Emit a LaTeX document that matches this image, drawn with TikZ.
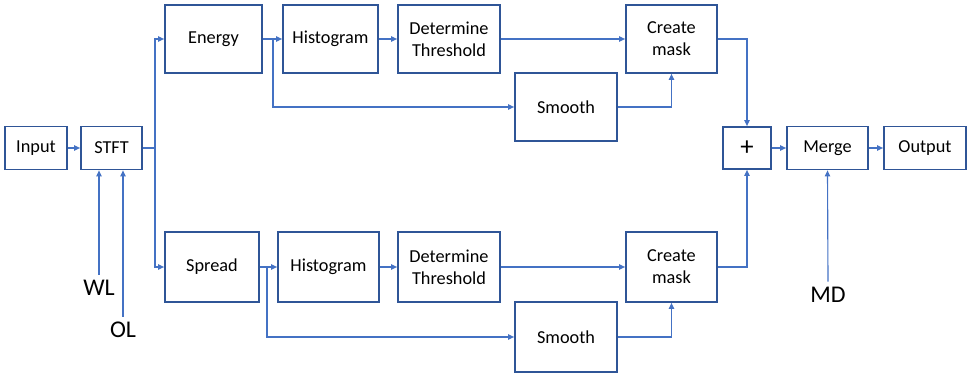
\documentclass[tikz,border=0pt]{standalone}
\usepackage{fontspec}
\setmainfont{Carlito}
\usetikzlibrary{arrows.meta, positioning}
\definecolor{boxblue}{HTML}{2F5597}
\definecolor{lineblue}{HTML}{4472C4}

\begin{document}
\begin{tikzpicture}[
  x=0.75pt, y=-0.75pt,
  block/.style={rectangle, draw=boxblue, line width=1.3pt, inner sep=0pt, minimum height=51pt, font=\fontsize{13.7}{16.5}\selectfont, align=center},
  small/.style={block, minimum height=32.25pt},
  tag/.style={inner sep=4pt, font=\fontsize{18}{20}\selectfont},
  link/.style={draw=lineblue, line width=0.85pt},
  arrow/.style={link, -{Triangle[length=4.5pt, width=4pt]}}
]
  \useasboundingbox (0,0) rectangle (972,375);

  \node[small, minimum width=46.5pt] (input) at (36,148) {Input};
  \node[small, minimum width=45.75pt] (stft) at (111.5,148) {STFT};

  \node[block, minimum width=72.75pt] (energy) at (213.5,39) {Energy};
  \node[block, minimum width=71.25pt] (histA) at (330.5,39) {Histogram};
  \node[block, minimum width=76.5pt] (detA) at (449,39) {Determine\\Threshold};
  \node[block, minimum width=68.25pt] (maskA) at (671.5,39) {Create\\mask};
  \node[block, minimum width=76.5pt] (smoothA) at (566,107) {Smooth};

  \node[block, minimum width=70.5pt, minimum height=52.5pt] (spread) at (212,267) {Spread};
  \node[block, minimum width=75.75pt, minimum height=52.5pt] (histB) at (328.5,267) {Histogram};
  \node[block, minimum width=76.5pt, minimum height=52.5pt] (detB) at (449,267) {Determine\\Threshold};
  \node[block, minimum width=68.25pt, minimum height=52.5pt] (maskB) at (671.5,267) {Create\\mask};
  \node[block, minimum width=76.5pt, minimum height=52.5pt] (smoothB) at (566,337) {Smooth};

  \node[small, minimum width=36pt, minimum height=31.5pt, font=\fontsize{20}{20}\selectfont] (plus) at (747,148) {+};
  \node[small, minimum width=60.75pt] (merge) at (827.5,148) {Merge};
  \node[small, minimum width=61.5pt] (output) at (925,148) {Output};

  \node[tag] (wl) at (99,288) {WL};
  \node[tag] (ol) at (123,330) {OL};
  \node[tag] (md) at (828,295) {MD};

  \coordinate (split) at (155,148);
  \coordinate (tapA) at (273,39);
  \coordinate (tapB) at (267,267);

  \draw[arrow] (input) -- (stft);
  \draw[link] (stft) -- (split);
  \draw[arrow] (split) |- (energy);
  \draw[arrow] (split) |- (spread);

  \draw[arrow] (energy) -- (histA);
  \draw[arrow] (tapA) |- (smoothA);
  \draw[arrow] (histA) -- (detA);
  \draw[arrow] (detA) -- (maskA);
  \draw[arrow] (smoothA) -| (maskA);
  \draw[arrow] (maskA) -| (plus);

  \draw[arrow] (spread) -- (histB);
  \draw[arrow] (tapB) |- (smoothB);
  \draw[arrow] (histB) -- (detB);
  \draw[arrow] (detB) -- (maskB);
  \draw[arrow] (smoothB) -| (maskB);
  \draw[arrow] (maskB) -| (plus);

  \draw[arrow] (plus) -- (merge);
  \draw[arrow] (merge) -- (output);

  \draw[arrow] (wl.north) -- (wl.north |- stft.south);
  \draw[arrow] (ol.north) -- (ol.north |- stft.south);
  \draw[arrow] (md.north) -- (merge.south);
\end{tikzpicture}
\end{document}
